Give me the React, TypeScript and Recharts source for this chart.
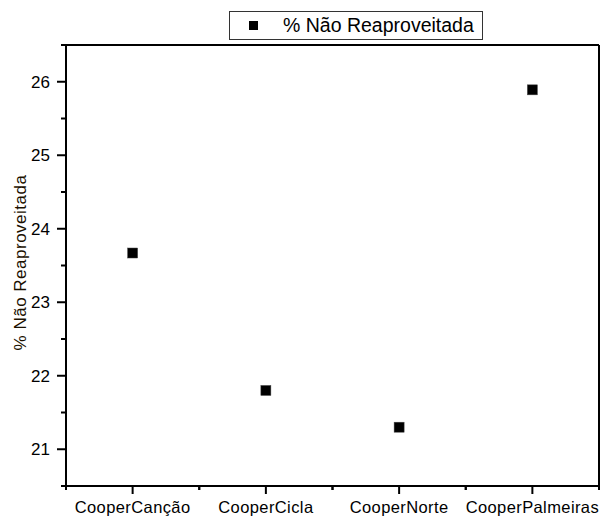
import {
  ComposedChart,
  Scatter,
  XAxis,
  YAxis,
  Legend
} from "recharts";

/* ---------- DATA ---------- */

const cooperativas = ["CooperCanção", "CooperCicla", "CooperNorte", "CooperPalmeiras"];
const naoReaproveitada = [23.67, 21.8, 21.3, 25.89];
const yTicks = [20.5, 21, 21.5, 22, 22.5, 23, 23.5, 24, 24.5, 25, 25.5, 26, 26.5];
const seriesName = "% Não Reaproveitada";

const chartData = cooperativas.map((name, i) => ({
  name,
  value: naoReaproveitada[i]
}));

/* ---------- LAYOUT ---------- */

const W = 604;
const H = 517;
const AXIS_X = 66;
const FONT = "Arial, 'Liberation Sans', sans-serif";

/* ---------- TICKS ---------- */

function YTick({ y, payload }: any) {
  const v = payload.value;
  const major = Number.isInteger(v);
  return (
    <g>
      <line
        x1={AXIS_X - (major ? 9 : 5)}
        x2={AXIS_X}
        y1={y}
        y2={y}
        stroke="#000"
        strokeWidth={2}
      />
      {major && (
        <text
          x={AXIS_X - 16}
          y={y}
          dy="0.36em"
          textAnchor="end"
          fontSize={17}
          fontFamily={FONT}
          fill="#000"
        >
          {v}
        </text>
      )}
    </g>
  );
}

function XTick({ x, y, payload }: any) {
  const half = payload.offset || 0;
  const top = y - 8;
  return (
    <g>
      <line x1={x} x2={x} y1={top} y2={top + 8} stroke="#000" strokeWidth={2} />
      <line x1={x - half} x2={x - half} y1={top} y2={top + 4} stroke="#000" strokeWidth={2} />
      <line x1={x + half} x2={x + half} y1={top} y2={top + 4} stroke="#000" strokeWidth={2} />
      <text
        x={x}
        y={top + 27}
        textAnchor="middle"
        fontSize={16.5}
        letterSpacing={0.4}
        fontFamily={FONT}
        fill="#000"
      >
        {payload.value}
      </text>
    </g>
  );
}

/* ---------- LEGEND ---------- */

function LegendBox({ payload }: any) {
  const label = payload && payload.length ? payload[0].value : seriesName;
  return (
    <div
      style={{
        boxSizing: "border-box",
        width: 254,
        height: 29,
        border: "1px solid #333",
        display: "flex",
        alignItems: "center",
        fontFamily: FONT,
        fontSize: 19.5,
        color: "#000",
        background: "#fff"
      }}
    >
      <span
        style={{
          display: "inline-block",
          width: 9,
          height: 9,
          background: "#000",
          marginLeft: 19,
          marginRight: 25
        }}
      />
      <span style={{ lineHeight: "27px" }}>{label}</span>
    </div>
  );
}

function SquareDot({ cx, cy }: any) {
  return <rect x={cx - 5} y={cy - 5} width={10} height={10} fill="#000" stroke="#444" strokeWidth={0.5} />;
}

export default function App() {
  return (
    <div style={{ position: "absolute", left: 0, top: 0, width: W, height: H, background: "#fff" }}>
      <ComposedChart
        width={W}
        height={H}
        data={chartData}
        margin={{ top: 44, right: 4, left: 0, bottom: 0 }}
      >
        <XAxis
          dataKey="name"
          type="category"
          scale="band"
          height={31}
          axisLine={{ stroke: "#000", strokeWidth: 2 }}
          tickLine={false}
          tickSize={8}
          tickMargin={0}
          tick={<XTick />}
          interval={0}
        />
        <XAxis
          xAxisId="top"
          dataKey="name"
          type="category"
          scale="band"
          orientation="top"
          height={1}
          axisLine={{ stroke: "#000", strokeWidth: 2 }}
          tickLine={false}
          tick={false}
        />
        <YAxis
          type="number"
          domain={[20.5, 26.5]}
          ticks={yTicks}
          width={AXIS_X}
          axisLine={{ stroke: "#000", strokeWidth: 2 }}
          tickLine={false}
          tick={<YTick />}
          interval={0}
          allowDataOverflow
          label={(props: any) => {
            const vb = props.viewBox || {};
            const cy = (vb.y || 45) + (vb.height || 441) / 2 - 3;
            return (
              <text
                x={20}
                y={cy}
                transform={`rotate(-90, 20, ${cy})`}
                textAnchor="middle"
                dominantBaseline="central"
                fontSize={17}
                letterSpacing={0.5}
                fontFamily={FONT}
                fill="#1a1000"
              >
                {seriesName}
              </text>
            );
          }}
        />
        <YAxis
          yAxisId="right"
          orientation="right"
          width={1}
          domain={[20.5, 26.5]}
          axisLine={{ stroke: "#000", strokeWidth: 2 }}
          tickLine={false}
          tick={false}
        />
        <Legend
          layout="horizontal"
          verticalAlign="middle"
          align="center"
          content={<LegendBox />}
          wrapperStyle={{ top: 11, left: 229, width: 254, height: 29 }}
        />
        <Scatter
          name={seriesName}
          dataKey="value"
          fill="#000"
          shape={<SquareDot />}
          isAnimationActive={false}
        />
      </ComposedChart>
    </div>
  );
}
